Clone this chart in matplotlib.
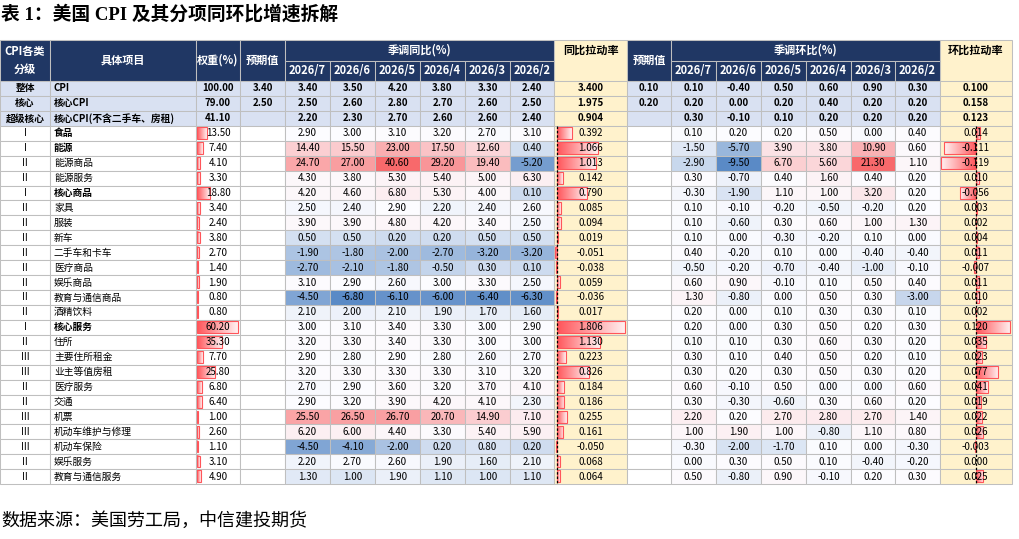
import matplotlib
matplotlib.use("Agg")
import matplotlib.pyplot as plt
from matplotlib.patches import Rectangle
import matplotlib.colors as mcolors
import numpy as np

plt.rcParams['font.family'] = ['Noto Sans CJK SC', 'DejaVu Sans']

# ---- data ----
months = ['2026/7', '2026/6', '2026/5', '2026/4', '2026/3', '2026/2']
levels = ['整体', '核心', '超级核心', 'I', 'I', 'II', 'II', 'I', 'II', 'II', 'II', 'II', 'II',
          'II', 'II', 'II', 'I', 'II', 'III', 'III', 'II', 'II', 'III', 'III', 'III', 'II', 'II']
items = ['CPI', '核心CPI', '核心CPI(不含二手车、房租)', '食品', '能源', '能源商品', '能源服务',
         '核心商品', '家具', '服装', '新车', '二手车和卡车', '医疗商品', '娱乐商品', '教育与通信商品',
         '酒精饮料', '核心服务', '住所', '主要住所租金', '业主等值房租', '医疗服务', '交通', '机票',
         '机动车维护与修理', '机动车保险', '娱乐服务', '教育与通信服务']
weights = [100.00, 79.00, 41.10, 13.50, 7.40, 4.10, 3.30, 18.80, 3.40, 2.40, 3.80, 2.70, 1.40,
           1.90, 0.80, 0.80, 60.20, 35.30, 7.70, 25.80, 6.80, 6.40, 1.00, 2.60, 1.10, 3.10, 4.90]
yoy_expect = [3.40, 2.50] + [None] * 25
mom_expect = [0.10, 0.20] + [None] * 25

yoy = [
    [3.40, 3.50, 4.20, 3.80, 3.30, 2.40],
    [2.50, 2.60, 2.80, 2.70, 2.60, 2.50],
    [2.20, 2.30, 2.70, 2.60, 2.60, 2.40],
    [2.90, 3.00, 3.10, 3.20, 2.70, 3.10],
    [14.40, 15.50, 23.00, 17.50, 12.60, 0.40],
    [24.70, 27.00, 40.60, 29.20, 19.40, -5.20],
    [4.30, 3.80, 5.30, 5.40, 5.00, 6.30],
    [4.20, 4.60, 6.80, 5.30, 4.00, 0.10],
    [2.50, 2.40, 2.90, 2.20, 2.40, 2.60],
    [3.90, 3.90, 4.80, 4.20, 3.40, 2.50],
    [0.50, 0.50, 0.20, 0.20, 0.50, 0.50],
    [-1.90, -1.80, -2.00, -2.70, -3.20, -3.20],
    [-2.70, -2.10, -1.80, -0.50, 0.30, 0.10],
    [3.10, 2.90, 2.60, 3.00, 3.30, 2.50],
    [-4.50, -6.80, -6.10, -6.00, -6.40, -6.30],
    [2.10, 2.00, 2.10, 1.90, 1.70, 1.60],
    [3.00, 3.10, 3.40, 3.30, 3.00, 2.90],
    [3.20, 3.30, 3.40, 3.30, 3.00, 3.00],
    [2.90, 2.80, 2.90, 2.80, 2.60, 2.70],
    [3.20, 3.30, 3.30, 3.30, 3.10, 3.20],
    [2.70, 2.90, 3.60, 3.20, 3.70, 4.10],
    [2.90, 3.20, 3.90, 4.20, 4.10, 2.30],
    [25.50, 26.50, 26.70, 20.70, 14.90, 7.10],
    [6.20, 6.00, 4.40, 3.30, 5.40, 5.90],
    [-4.50, -4.10, -2.00, 0.20, 0.80, 0.20],
    [2.20, 2.70, 2.60, 1.90, 1.60, 2.10],
    [1.30, 1.00, 1.90, 1.10, 1.00, 1.10],
]
yoy_pull = [3.400, 1.975, 0.904, 0.392, 1.066, 1.013, 0.142, 0.790, 0.085, 0.094, 0.019, -0.051,
            -0.038, 0.059, -0.036, 0.017, 1.806, 1.130, 0.223, 0.826, 0.184, 0.186, 0.255, 0.161,
            -0.050, 0.068, 0.064]
mom = [
    [0.10, -0.40, 0.50, 0.60, 0.90, 0.30],
    [0.20, 0.00, 0.20, 0.40, 0.20, 0.20],
    [0.30, -0.10, 0.10, 0.20, 0.20, 0.20],
    [0.10, 0.20, 0.20, 0.50, 0.00, 0.40],
    [-1.50, -5.70, 3.90, 3.80, 10.90, 0.60],
    [-2.90, -9.50, 6.70, 5.60, 21.30, 1.10],
    [0.30, -0.70, 0.40, 1.60, 0.40, 0.20],
    [-0.30, -1.90, 1.10, 1.00, 3.20, 0.20],
    [0.10, -0.10, -0.20, -0.50, -0.20, 0.20],
    [0.10, -0.60, 0.30, 0.60, 1.00, 1.30],
    [0.10, 0.00, -0.30, -0.20, 0.10, 0.00],
    [0.40, -0.20, 0.10, 0.00, -0.40, -0.40],
    [-0.50, -0.20, -0.70, -0.40, -1.00, -0.10],
    [0.60, 0.90, -0.10, 0.10, 0.50, 0.40],
    [1.30, -0.80, 0.00, 0.50, 0.30, -3.00],
    [0.20, 0.00, 0.10, 0.30, 0.30, 0.10],
    [0.20, 0.00, 0.30, 0.50, 0.20, 0.30],
    [0.10, 0.10, 0.30, 0.60, 0.30, 0.20],
    [0.30, 0.10, 0.40, 0.50, 0.20, 0.10],
    [0.30, 0.20, 0.30, 0.50, 0.30, 0.20],
    [0.60, -0.10, 0.50, 0.00, 0.00, 0.60],
    [0.30, -0.30, -0.60, 0.30, 0.60, 0.20],
    [2.20, 0.20, 2.70, 2.80, 2.70, 1.40],
    [1.00, 1.90, 1.00, -0.80, 1.10, 0.80],
    [-0.30, -2.00, -1.70, 0.10, 0.00, -0.30],
    [0.00, 0.30, 0.50, 0.10, -0.40, -0.20],
    [0.50, -0.80, 0.90, -0.10, 0.20, 0.30],
]
mom_pull = [0.100, 0.158, 0.123, 0.014, -0.111, -0.119, 0.010, -0.056, 0.003, 0.002, 0.004, 0.011,
            -0.007, 0.011, 0.010, 0.002, 0.120, 0.035, 0.023, 0.077, 0.041, 0.019, 0.022, 0.026,
            -0.003, 0.000, 0.025]

n_top = 3  # summary rows with blue fill

# ---- layout (pixels) ----
W, H = 1019, 539
col_x = [0, 50, 196, 240, 285, 330, 375, 420, 465, 510, 554, 627, 671, 716, 761, 806, 851,
         895, 940, 1012]
head_top, head_mid, head_bot = 40, 60.5, 81
row_h = 14.93

navy = '#203764'
grid = '#BFBFBF'
light_blue = '#D9E1F2'
yellow = '#FFF2CC'
bar_red = '#FF555A'
c_low, c_mid, c_high = '#5A8AC6', '#FCFCFF', '#F8696B'

fig = plt.figure(figsize=(W / 100, H / 100), dpi=100)
ax = fig.add_axes([0, 0, 1, 1])
ax.set_xlim(0, W)
ax.set_ylim(H, 0)
ax.axis('off')


def cell(c0, c1, y0, y1, fc, ec=grid):
    x0, x1 = col_x[c0], col_x[c1]
    ax.add_patch(Rectangle((x0, y0), x1 - x0, y1 - y0, facecolor=fc, edgecolor=ec,
                           lw=0.75, zorder=1))


def cx(c0, c1=None):
    c1 = c0 + 1 if c1 is None else c1
    return (col_x[c0] + col_x[c1]) / 2


def blend(a, b, t):
    a = np.array(mcolors.to_rgb(a))
    b = np.array(mcolors.to_rgb(b))
    return tuple(a + (b - a) * t)


def scale_color(v, lo, mid, hi):
    if v <= mid:
        return blend(c_mid, c_low, (mid - v) / (mid - lo))
    return blend(c_mid, c_high, (v - mid) / (hi - mid))


grad = np.array([blend(bar_red, '#FFFFFF', t) for t in np.linspace(0, 0.92, 64)])[None, :, :]


def bar_geom(c, vals):
    L, R = col_x[c] + 1.5, col_x[c + 1] - 1.5
    lo, hi = min(0, min(vals)), max(0, max(vals))
    axis_x = L + (-lo) / (hi - lo) * (R - L)
    return axis_x, (R - L) / (hi - lo)


def data_bar(c, vals, v, y0, y1):
    axis_x, k = bar_geom(c, vals)
    length = v * k
    if abs(length) < 0.05:
        return
    ax.imshow(grad, extent=[axis_x, axis_x + length, y1 - 1.8, y0 + 1.3], aspect='auto',
              interpolation='bilinear', zorder=2)
    ax.add_patch(Rectangle((min(axis_x, axis_x + length), y0 + 1.3), abs(length),
                           (y1 - 1.8) - (y0 + 1.3), fill=False, edgecolor=bar_red, lw=0.8,
                           zorder=2.5))


hfont = dict(fontsize=8, fontweight='bold', ha='center', va='center')

# ---- header ----
cell(0, 1, head_top, head_bot, navy)
ax.text(cx(0), (head_top + head_bot) / 2, 'CPI各类\n分级', color='white', linespacing=1.5, **hfont)
cell(1, 2, head_top, head_bot, navy)
ax.text(cx(1), (head_top + head_bot) / 2, '具体项目', color='white', **hfont)
cell(2, 3, head_top, head_bot, navy)
ax.text(cx(2), (head_top + head_bot) / 2, '权重(%)', color='white', **hfont)
cell(3, 4, head_top, head_bot, navy)
ax.text(cx(3), (head_top + head_bot) / 2, '预期值', color='white', **hfont)
cell(4, 10, head_top, head_mid, navy)
ax.text(cx(4, 10), (head_top + head_mid) / 2, '季调同比(%)', color='white', **hfont)
cell(10, 11, head_top, head_bot, yellow)
ax.text(cx(10), (head_top + head_mid) / 2, '同比拉动率', color='black', **hfont)
cell(11, 12, head_top, head_bot, navy)
ax.text(cx(11), (head_top + head_bot) / 2, '预期值', color='white', **hfont)
cell(12, 18, head_top, head_mid, navy)
ax.text(cx(12, 18), (head_top + head_mid) / 2, '季调环比(%)', color='white', **hfont)
cell(18, 19, head_top, head_bot, yellow)
ax.text(cx(18), (head_top + head_mid) / 2, '环比拉动率', color='black', **hfont)
for j, m in enumerate(months):
    for base in (4, 12):
        cell(base + j, base + j + 1, head_mid, head_bot, navy)
        ax.text(cx(base + j), (head_mid + head_bot) / 2, m, color='white', **hfont)

# ---- colour scale ranges (detail rows only) ----
yoy_body = np.array(yoy[n_top:])
mom_body = np.array(mom[n_top:])
yoy_rng = (yoy_body.min(), np.percentile(yoy_body, 50), yoy_body.max())
mom_rng = (mom_body.min(), np.percentile(mom_body, 50), mom_body.max())

# ---- body ----
tfont = dict(fontsize=7, va='center', color='black')
for i in range(len(items)):
    y0 = head_bot + i * row_h
    y1 = y0 + row_h
    ym = (y0 + y1) / 2
    top = i < n_top
    base_fc = light_blue if top else 'white'
    wt = 'bold' if top else 'normal'

    cell(0, 1, y0, y1, base_fc)
    ax.text(cx(0), ym, levels[i], ha='center', fontweight=wt, **tfont)
    cell(1, 2, y0, y1, base_fc)
    name_wt = 'bold' if (top or levels[i] == 'I') else 'normal'
    ax.text(col_x[1] + 4, ym, items[i], ha='left', fontweight=name_wt, **tfont)
    cell(2, 3, y0, y1, base_fc)
    if not top:
        data_bar(2, weights[n_top:], weights[i], y0, y1)
    ax.text(cx(2), ym, f'{weights[i]:.2f}', ha='center', fontweight=wt, zorder=4, **tfont)
    cell(3, 4, y0, y1, base_fc)
    if yoy_expect[i] is not None:
        ax.text(cx(3), ym, f'{yoy_expect[i]:.2f}', ha='center', fontweight=wt, **tfont)

    for j in range(6):
        fc = light_blue if top else scale_color(yoy[i][j], *yoy_rng)
        cell(4 + j, 5 + j, y0, y1, fc)
        ax.text(cx(4 + j), ym, f'{yoy[i][j]:.2f}', ha='center', fontweight=wt, **tfont)
        fc = light_blue if top else scale_color(mom[i][j], *mom_rng)
        cell(12 + j, 13 + j, y0, y1, fc)
        ax.text(cx(12 + j), ym, f'{mom[i][j]:.2f}', ha='center', fontweight=wt, **tfont)

    cell(10, 11, y0, y1, yellow)
    if not top:
        data_bar(10, yoy_pull[n_top:], yoy_pull[i], y0, y1)
    ax.text(cx(10), ym, f'{yoy_pull[i]:.3f}', ha='center', fontweight=wt, zorder=4, **tfont)

    cell(11, 12, y0, y1, base_fc)
    if mom_expect[i] is not None:
        ax.text(cx(11), ym, f'{mom_expect[i]:.2f}', ha='center', fontweight=wt, **tfont)

    cell(18, 19, y0, y1, yellow)
    if not top:
        data_bar(18, mom_pull[n_top:], mom_pull[i], y0, y1)
    ax.text(cx(18), ym, f'{mom_pull[i]:.3f}', ha='center', fontweight=wt, zorder=4, **tfont)

# dashed bar axes in the contribution columns
body_top = head_bot + n_top * row_h
body_bot = head_bot + len(items) * row_h
for c, vals in ((10, yoy_pull[n_top:]), (18, mom_pull[n_top:])):
    axis_x, _ = bar_geom(c, vals)
    ax.plot([axis_x, axis_x], [body_top, body_bot], color='black', lw=0.9,
            ls=(0, (2, 1.5)), zorder=3)

# ---- title and source ----
ax.text(1, 14, '表 1：美国 CPI 及其分项同环比增速拆解', fontsize=13.5, fontweight='bold',
        family=['Liberation Serif', 'Noto Sans CJK SC'], ha='left', va='center')
ax.text(1, 521, '数据来源：美国劳工局，中信建投期货', fontsize=13, fontstyle='italic',
        ha='left', va='center')

ax.set_xlim(0, W)
ax.set_ylim(H, 0)
fig.savefig('out.png', dpi=100)
